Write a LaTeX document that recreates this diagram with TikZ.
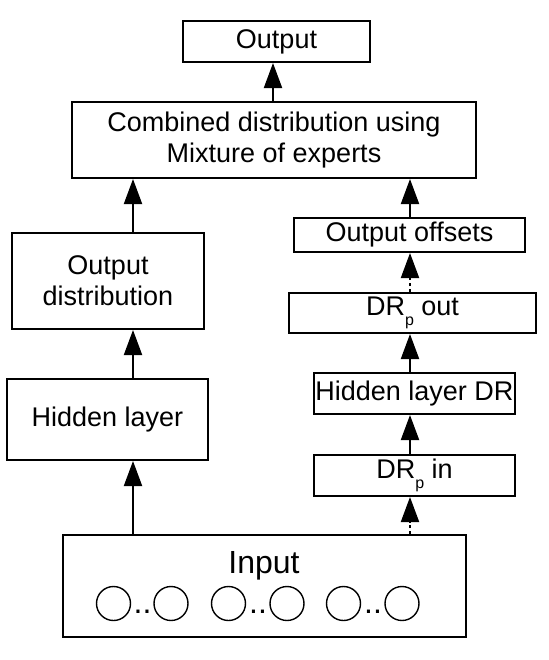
\documentclass[tikz,border=0pt]{standalone}
\usepackage{fontspec}
\setmainfont{Liberation Sans}
\usetikzlibrary{arrows.meta, positioning}
\newcommand{\drp}{DR\raisebox{-5pt}{\fontsize{8}{8}\selectfont p}}
\tikzset{
  blk/.style={draw, line width=1pt, inner sep=0pt, align=center,
    font=\fontsize{13.5}{15.5}\selectfont},
  up/.style={-{Triangle[length=12.5pt, width=9pt]}, line width=1pt},
  updot/.style={up, dash pattern=on 1.5pt off 1.5pt},
  inc/.style={circle, draw, line width=0.7pt, minimum size=17pt, inner sep=0pt},
  big/.style={font=\fontsize{16}{16}\selectfont, anchor=base, inner sep=0pt},
}

\begin{document}
\begin{tikzpicture}[x=0.5pt, y=-0.5pt]
  \useasboundingbox (0,0) rectangle (548,660);
  % top
  \node[blk, minimum width=93.5pt, minimum height=20.5pt] (out) at (276.5,41.5) {Output};
  \node[blk, minimum width=202pt, minimum height=38pt] (comb) at (274,140) {Combined distribution using\\Mixture of experts};
  % left column
  \node[blk, minimum width=96pt, minimum height=48pt] (odist) at (108,281) {Output\\distribution};
  \node[blk, minimum width=100.5pt, minimum height=40.5pt] (hid) at (107.5,419.5) {Hidden layer};
  % right column
  \node[blk, minimum width=115.5pt, minimum height=17pt] (offs) at (409.5,235) {Output offsets};
  \node[blk, minimum width=123.5pt, minimum height=20pt] (drout) at (412.5,313) {\drp{} out};
  \node[blk, minimum width=100.5pt, minimum height=20.5pt] (hiddr) at (414.5,393.5) {Hidden layer DR};
  \node[blk, minimum width=100.5pt, minimum height=20.5pt] (drin) at (414.5,475.5) {\drp{} in};
  % input
  \node[blk, minimum width=201.5pt, minimum height=51pt] (inp) at (264.5,586) {};
  \node[big] (intxt) at (264,573) {Input};
  \foreach \cx [count=\i] in {113.5,171,228.5,287,343.5,402}
    \node[inc] (c\i) at (\cx,603.5) {};
  \foreach \dx [count=\i] in {142.5,258,373}
    \node[big] (d\i) at (\dx,613) {..};
  % connectors
  \coordinate (lx) at (133,0);
  \coordinate (rx) at (410,0);
  \coordinate (mx) at (273,0);
  \draw[up] (inp.north -| lx) -- (hid.south -| lx);
  \draw[up] (hid.north -| lx) -- (odist.south -| lx);
  \draw[up] (odist.north -| lx) -- (comb.south -| lx);
  \draw[updot] (inp.north -| rx) -- (drin.south -| rx);
  \draw[up] (drin.north -| rx) -- (hiddr.south -| rx);
  \draw[up] (hiddr.north -| rx) -- (drout.south -| rx);
  \draw[updot] (drout.north -| rx) -- (offs.south -| rx);
  \draw[up] (offs.north -| rx) -- (comb.south -| rx);
  \draw[up] (comb.north -| mx) -- (out.south -| mx);
\end{tikzpicture}
\end{document}
